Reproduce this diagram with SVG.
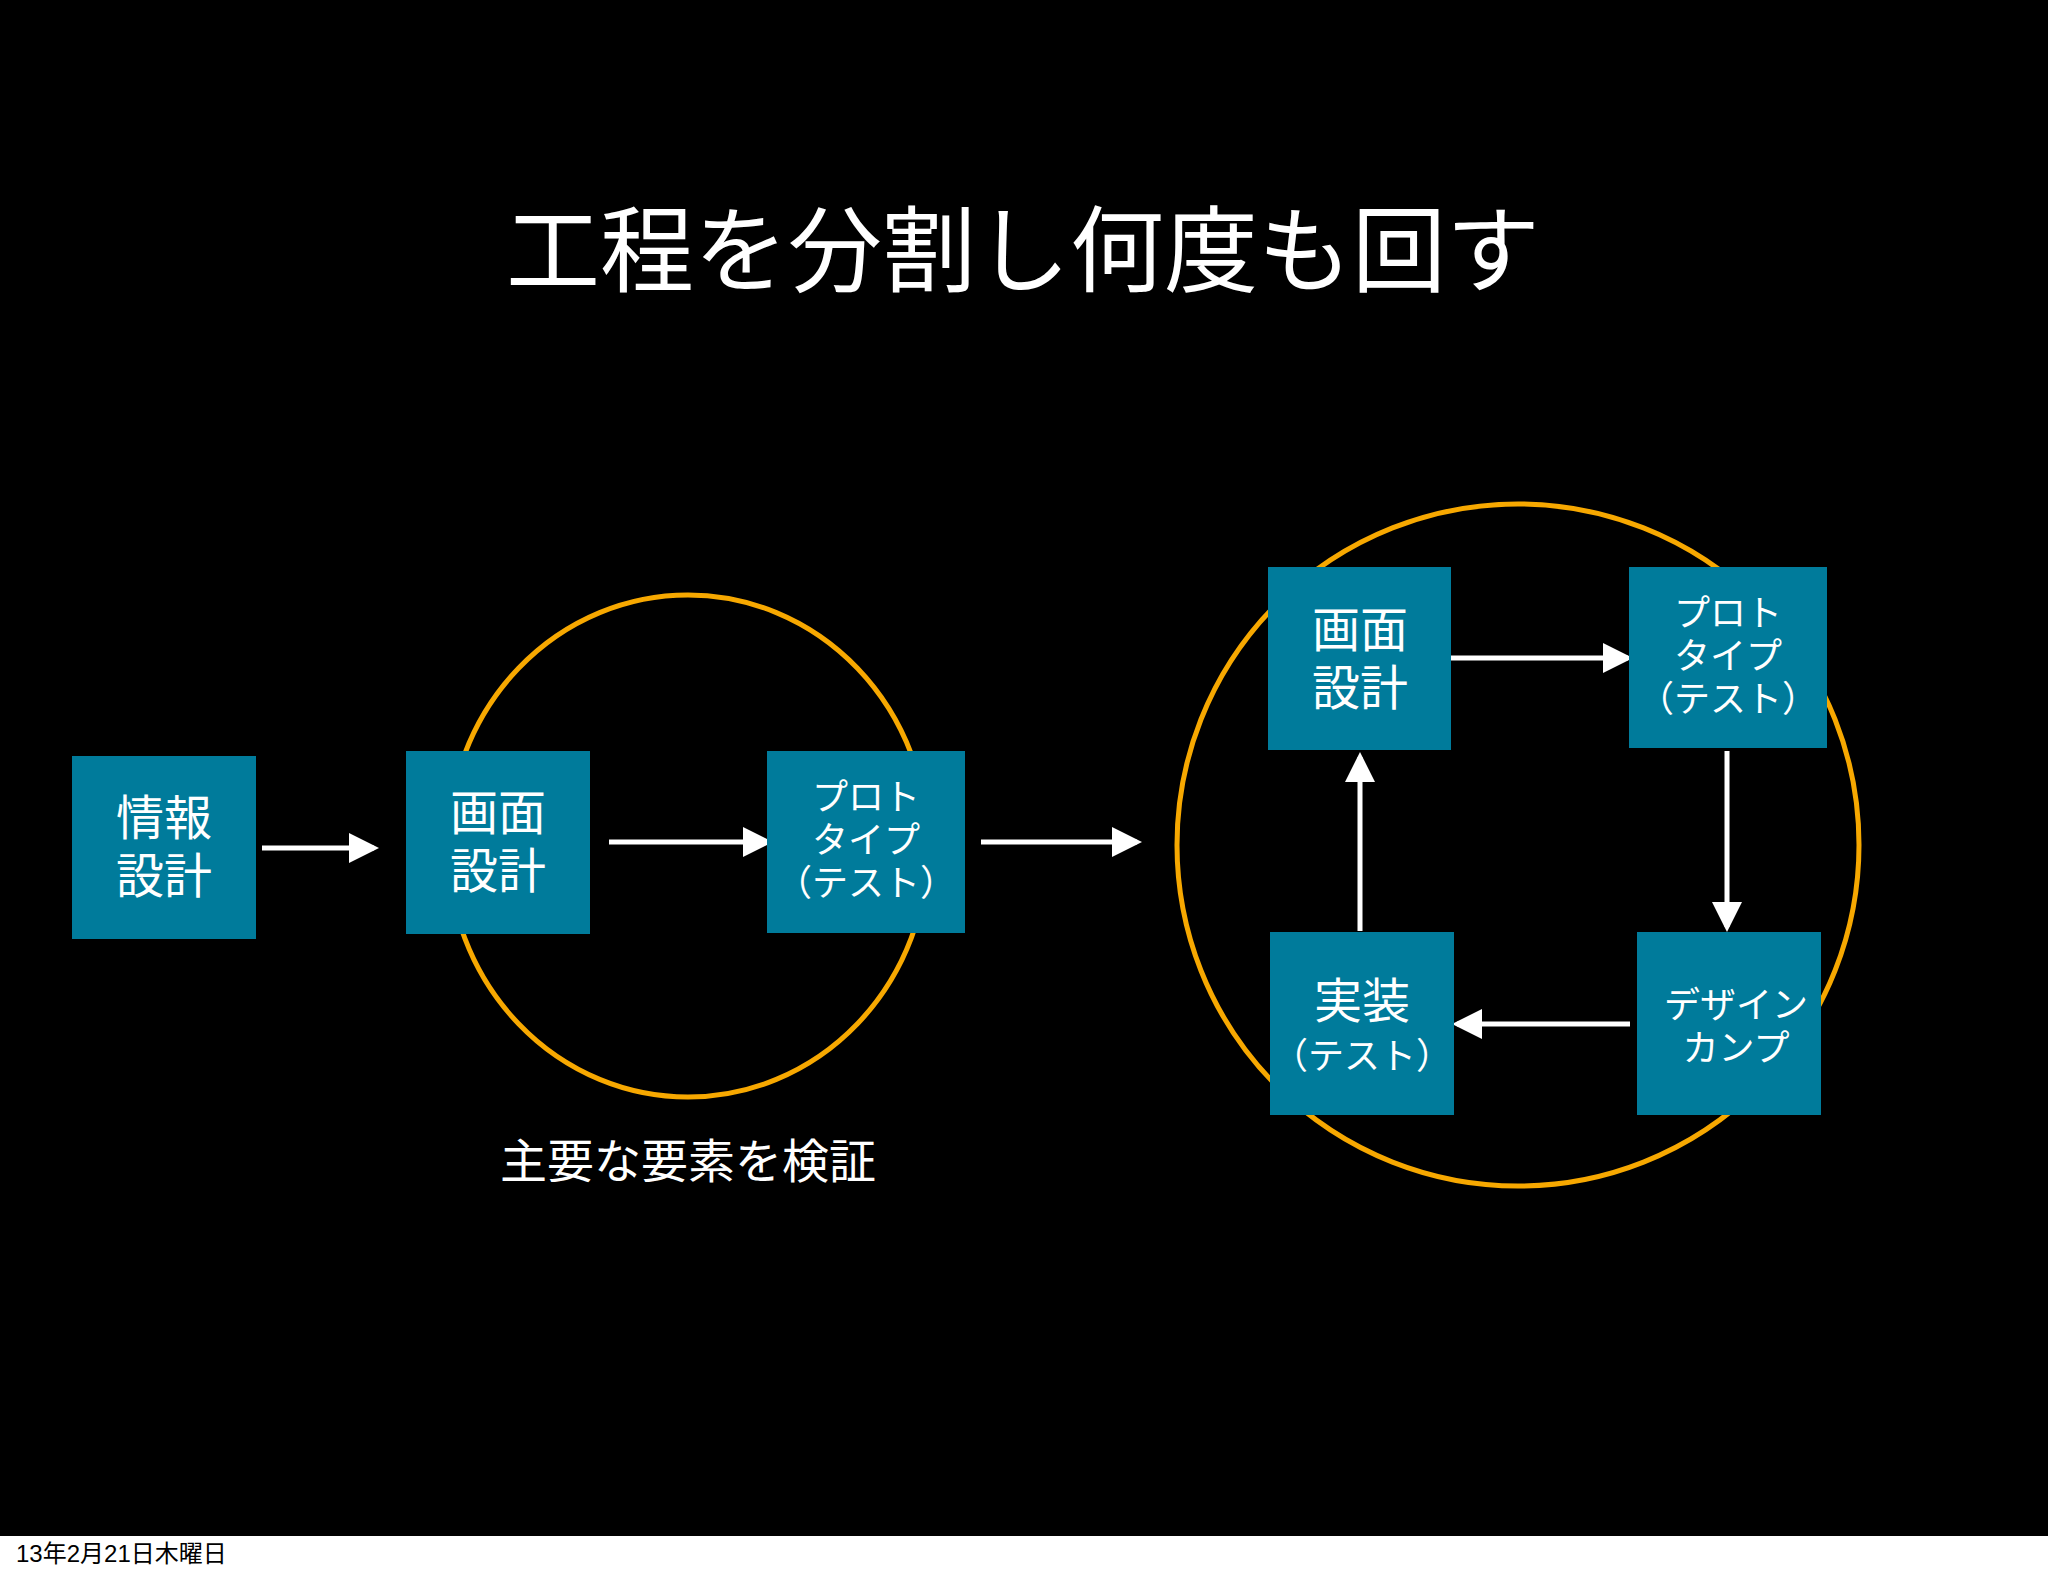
<svg xmlns="http://www.w3.org/2000/svg" width="2048" height="1576" viewBox="0 0 2048 1576">
<defs>
<style>
.box{fill:#007b9b}
.t{fill:#fff;font-family:"Noto Sans CJK JP","Noto Sans",sans-serif;text-anchor:middle}
.big{font-size:48px}
.sm{font-size:36px}
.ring{fill:none;stroke:#f7a800;stroke-width:5}
.ln{stroke:#fff;stroke-width:5;fill:none;marker-end:url(#ah)}
</style>
<marker id="ah" markerWidth="6" markerHeight="6" refX="5" refY="3" orient="auto" markerUnits="strokeWidth"><path d="M0,0 L6,3 L0,6 z" fill="#fff"/></marker>
</defs>
<rect width="2048" height="1576" fill="#fff"/>
<rect x="0" y="0" width="2048" height="1536" fill="#000"/>
<text x="1023" y="285" class="t" style="font-size:94px">工程を分割し何度も回す</text>
<ellipse class="ring" cx="688" cy="846" rx="240" ry="251"/>
<ellipse class="ring" cx="1518" cy="845" rx="341" ry="341"/>
<g id="connectors">
<line class="ln" x1="262" y1="848" x2="374" y2="848"/>
<line class="ln" x1="609" y1="842" x2="768" y2="842"/>
<line class="ln" x1="981" y1="842" x2="1137" y2="842"/>
<line class="ln" x1="1451" y1="658" x2="1628" y2="658"/>
<line class="ln" x1="1727" y1="751" x2="1727" y2="927"/>
<line class="ln" x1="1630" y1="1024" x2="1457" y2="1024"/>
<line class="ln" x1="1360" y1="931" x2="1360" y2="757"/>
</g>
<g id="n1"><rect class="box" x="72" y="756" width="184" height="183"/><text class="t big" x="164" y="835">情報</text><text class="t big" x="164" y="893">設計</text></g>
<g id="n2"><rect class="box" x="406" y="751" width="184" height="183"/><text class="t big" x="498" y="830">画面</text><text class="t big" x="498" y="888">設計</text></g>
<g id="n3"><rect class="box" x="767" y="751" width="198" height="182"/><text class="t sm" x="866" y="810">プロト</text><text class="t sm" x="866" y="853">タイプ</text><text class="t sm" x="866" y="896">（テスト）</text></g>
<text class="t" x="688" y="1178" style="font-size:47px">主要な要素を検証</text>
<g id="n4"><rect class="box" x="1268" y="567" width="183" height="183"/><text class="t big" x="1360" y="647">画面</text><text class="t big" x="1360" y="705">設計</text></g>
<g id="n5"><rect class="box" x="1629" y="567" width="198" height="181"/><text class="t sm" x="1728" y="626">プロト</text><text class="t sm" x="1728" y="669">タイプ</text><text class="t sm" x="1728" y="712">（テスト）</text></g>
<g id="n6"><rect class="box" x="1637" y="932" width="184" height="183"/><text class="t sm" x="1736" y="1018">デザイン</text><text class="t sm" x="1736" y="1061">カンプ</text></g>
<g id="n7"><rect class="box" x="1270" y="932" width="184" height="183"/><text class="t big" x="1362" y="1018">実装</text><text class="t sm" x="1362" y="1069">（テスト）</text></g>
<text x="16" y="1562" style="font-family:'Liberation Sans','Noto Sans CJK JP',sans-serif;font-size:24px" fill="#000">13年2月21日木曜日</text>
</svg>
